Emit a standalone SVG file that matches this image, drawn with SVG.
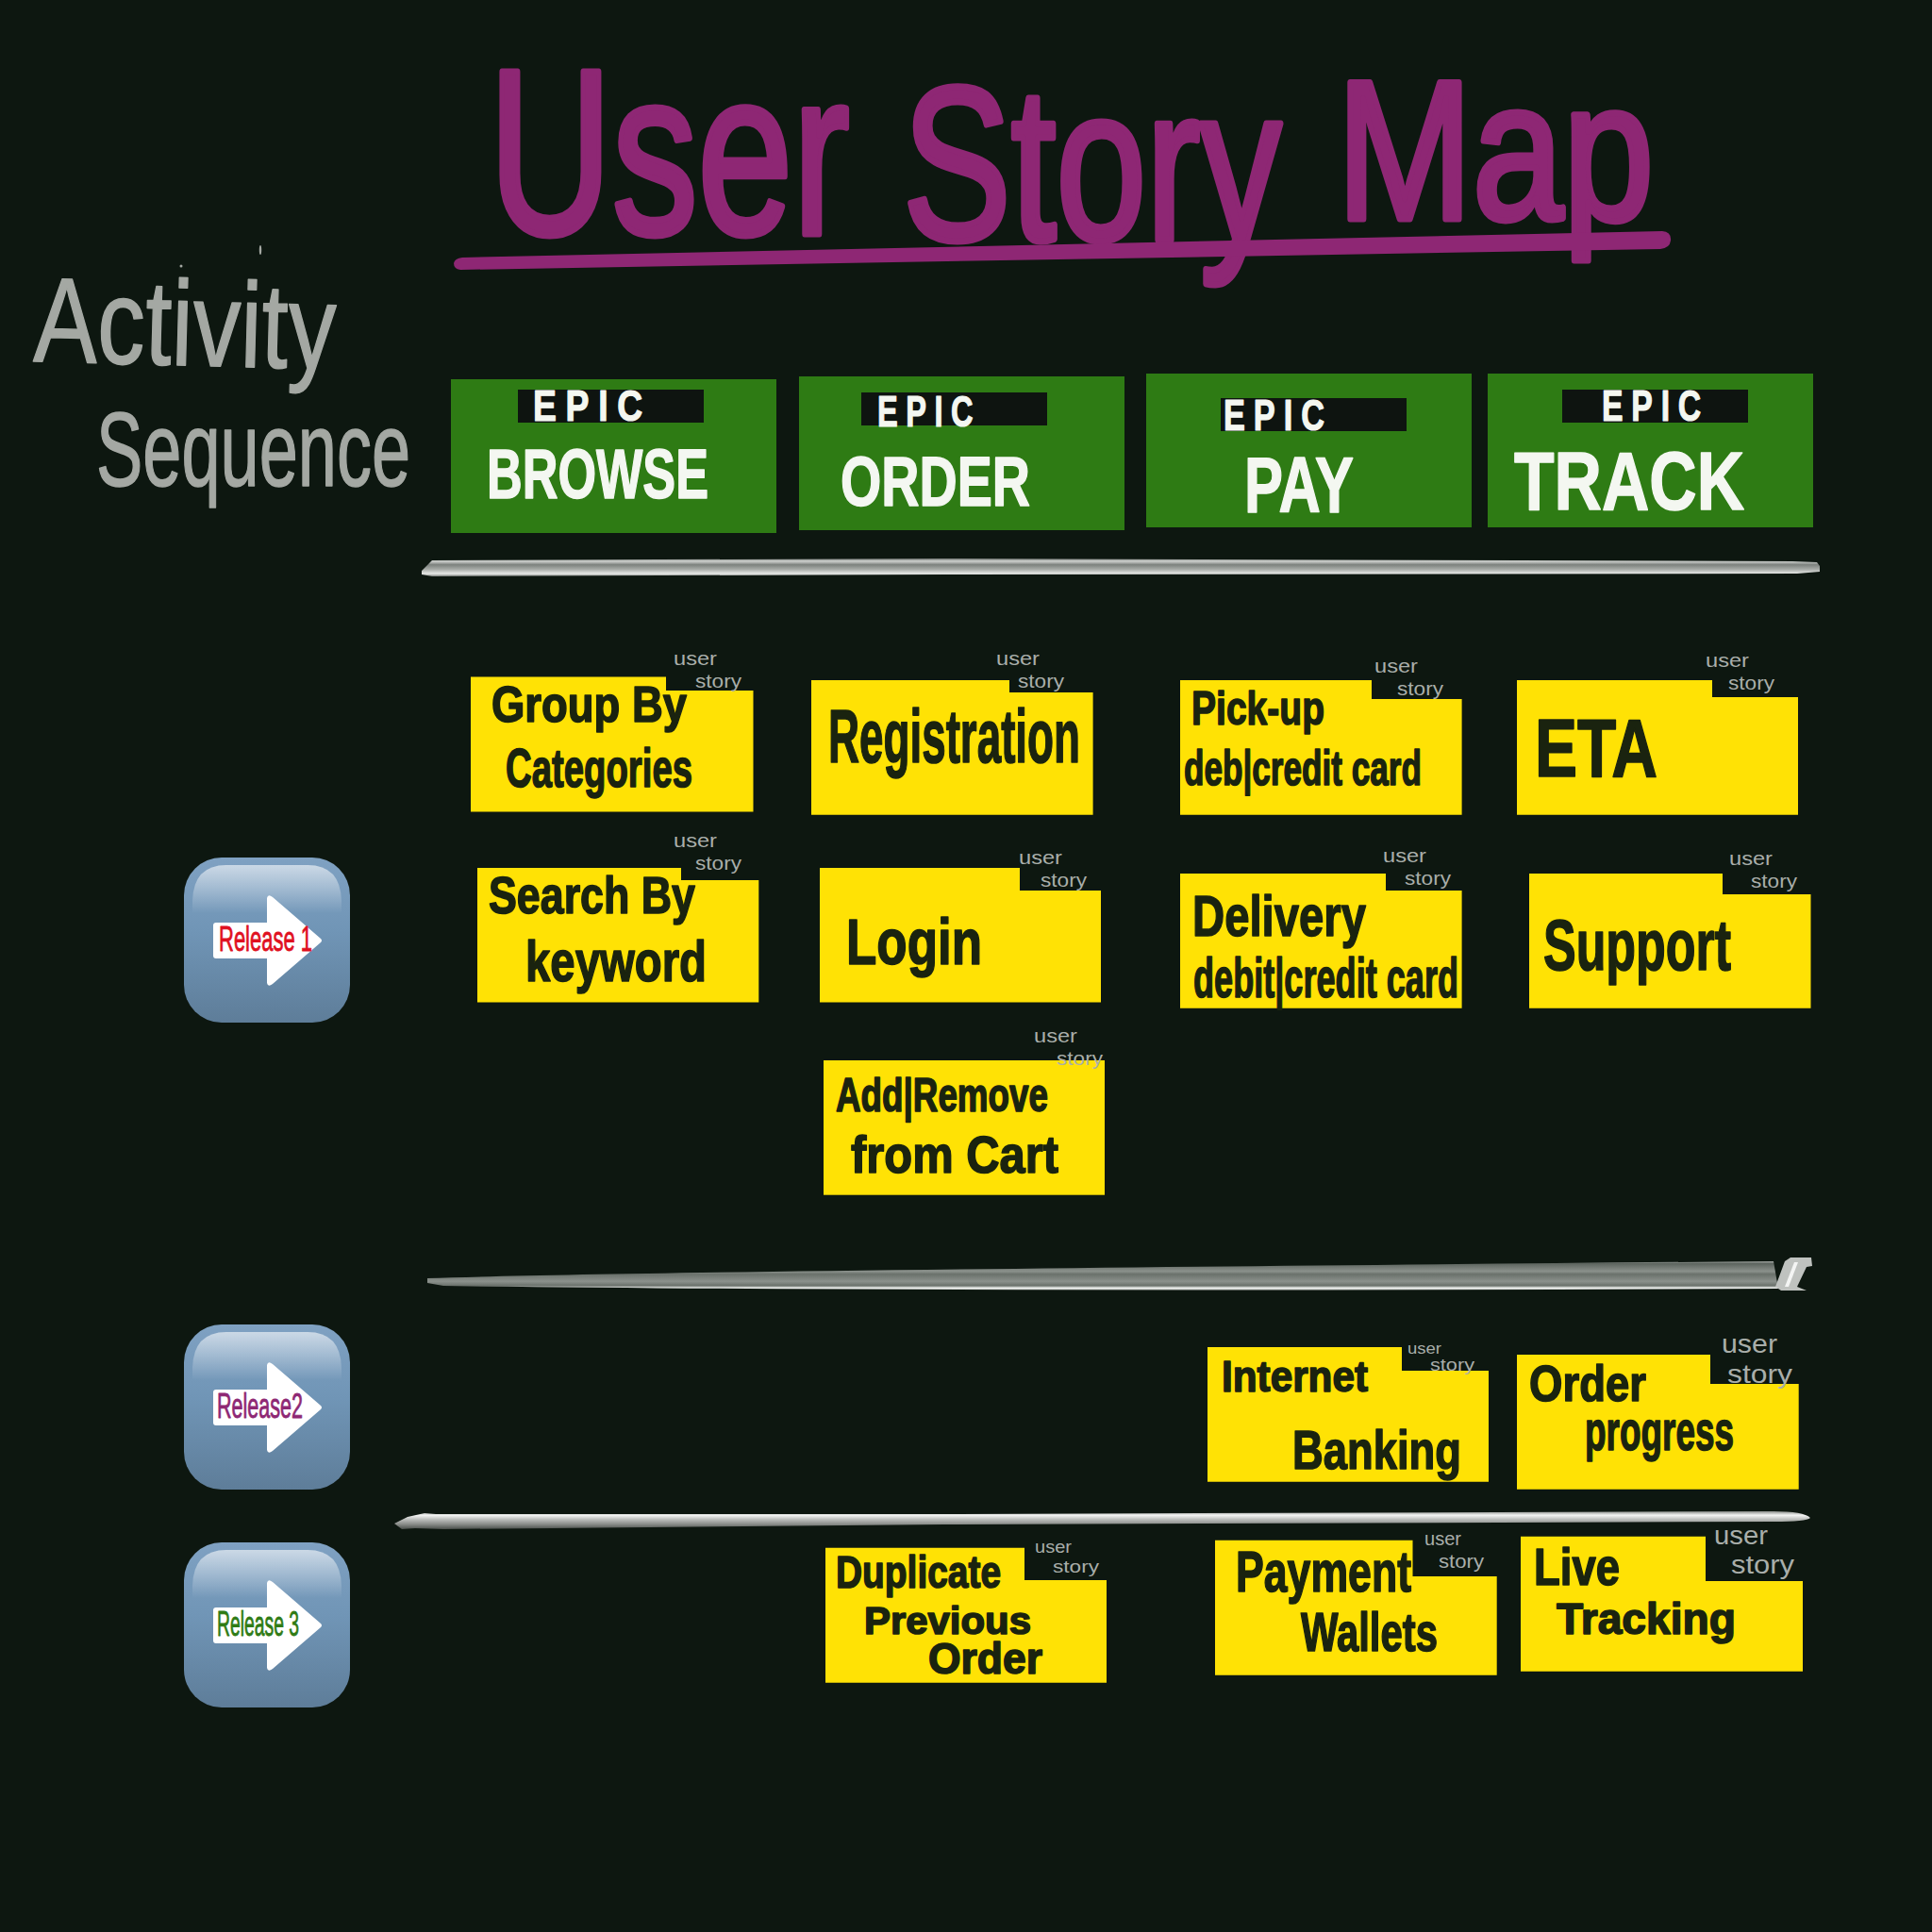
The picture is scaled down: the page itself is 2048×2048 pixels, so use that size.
<svg xmlns="http://www.w3.org/2000/svg" width="2048" height="2048" viewBox="0 0 2048 2048">
<style>
text{font-family:"Liberation Sans",Arial,sans-serif;stroke-linejoin:round;stroke-linecap:round}
.ti{fill:#8E2774;stroke:#8E2774;stroke-width:7px}
.ac{fill:#A4A8A3;stroke:#A4A8A3;stroke-width:1.5px}
.ep{fill:#2E7B14}.tb{fill:#0E1410}
.et{fill:#F4F7F1;stroke:#F4F7F1;stroke-width:1.2px;font-weight:700;font-size:46px;letter-spacing:12px}
.ew{fill:#F4F7F1;stroke:#F4F7F1;stroke-width:1.5px;font-weight:700}
.st{fill:#FFE205}
.nt{fill:#1A230F;stroke:#1A230F;stroke-width:1.6px;font-weight:700}
.us{fill:#A9AEAA;font-size:21px}
.rl{font-size:36px;stroke-width:.8px}
</style>
<defs>
<linearGradient id="btn" x1="0" y1="0" x2="0" y2="1"><stop offset="0" stop-color="#7FA1C2"/><stop offset=".45" stop-color="#7095B6"/><stop offset="1" stop-color="#5E7D99"/></linearGradient>
<linearGradient id="gloss" x1="0" y1="0" x2="0" y2="1"><stop offset="0" stop-color="#fff" stop-opacity=".6"/><stop offset="1" stop-color="#fff" stop-opacity="0"/></linearGradient>
<linearGradient id="sw1" x1="0" y1="0" x2="0" y2="1"><stop offset="0" stop-color="#6A6F6B"/><stop offset=".15" stop-color="#CFD2CF"/><stop offset=".35" stop-color="#7C817D"/><stop offset=".6" stop-color="#A7ABA7"/><stop offset=".85" stop-color="#E8EAE8"/><stop offset="1" stop-color="#7A7F7B"/></linearGradient>
<linearGradient id="sw3" x1="0" y1="0" x2="0" y2="1"><stop offset="0" stop-color="#888C88"/><stop offset=".22" stop-color="#F4F5F4"/><stop offset=".45" stop-color="#BDBFBD"/><stop offset=".72" stop-color="#8A8D8A"/><stop offset="1" stop-color="#4A4F4B"/></linearGradient>
<linearGradient id="sw2" x1="0" y1="0" x2="0" y2="1"><stop offset="0" stop-color="#A8ACA8"/><stop offset=".08" stop-color="#5D655F"/><stop offset=".35" stop-color="#8B918C"/><stop offset=".45" stop-color="#6A716B"/><stop offset=".7" stop-color="#8B918C"/><stop offset=".85" stop-color="#6A716B"/><stop offset=".93" stop-color="#F0F2F0"/><stop offset="1" stop-color="#B0B3B0"/></linearGradient>
<g id="btnbase">
<rect x="195" y="909" width="176" height="175" rx="40" fill="url(#btn)"/>
<path d="M204 955Q205 917 240 917H326Q361 917 362 955V968H204Z" fill="url(#gloss)"/>
<path d="M226 981Q226 978 229 978H283V952Q284 947 289 951L340 995Q342 997 340 999L289 1043Q284 1047 283 1042V1016H229Q226 1016 226 1013Z" fill="#fff"/>
</g>
</defs>
<rect width="2048" height="2048" fill="#0D1710"/>

<g id="title">
<text class="ti"><tspan x="518" y="248" font-size="248" textLength="433" lengthAdjust="spacingAndGlyphs">User </tspan><tspan x="957" y="254" font-size="232" textLength="449" lengthAdjust="spacingAndGlyphs">Story </tspan><tspan x="1417" y="232" font-size="210" textLength="336" lengthAdjust="spacingAndGlyphs">Map</tspan></text>
<path d="M490 273L1762 245Q1772 246 1771 255Q1770 263 1760 264L488 286Q481 285 481 279Q482 274 490 273Z" fill="#8E2774"/>
</g>

<g id="activity-sequence">
<text class="ac" x="35" y="383" font-size="128" textLength="320" lengthAdjust="spacingAndGlyphs" transform="rotate(1.5 35 383)">Activity</text>
<text class="ac" x="102" y="515" font-size="112" textLength="333" lengthAdjust="spacingAndGlyphs">Sequence</text>
<ellipse cx="192" cy="282" rx="1.5" ry="1.5" fill="#A4A8A3"/>
<ellipse cx="276" cy="265" rx="1.2" ry="5" fill="#A4A8A3"/>
</g>

<g id="epic-browse"><rect class="ep" x="478" y="402" width="345" height="163"/><rect class="tb" x="549" y="413" width="197" height="35"/>
<text class="et" x="565" y="446" textLength="126" lengthAdjust="spacingAndGlyphs">EPIC</text>
<text class="ew" x="516" y="528" font-size="74" textLength="235" lengthAdjust="spacingAndGlyphs">BROWSE</text></g>
<g id="epic-order"><rect class="ep" x="847" y="399" width="345" height="163"/><rect class="tb" x="913" y="416" width="197" height="35"/>
<text class="et" x="930" y="452" textLength="110" lengthAdjust="spacingAndGlyphs">EPIC</text>
<text class="ew" x="891" y="536" font-size="74" textLength="201" lengthAdjust="spacingAndGlyphs">ORDER</text></g>
<g id="epic-pay"><rect class="ep" x="1215" y="396" width="345" height="163"/><rect class="tb" x="1294" y="422" width="197" height="35"/>
<text class="et" x="1297" y="456" textLength="116" lengthAdjust="spacingAndGlyphs">EPIC</text>
<text class="ew" x="1319" y="543" font-size="84" textLength="116" lengthAdjust="spacingAndGlyphs">PAY</text></g>
<g id="epic-track"><rect class="ep" x="1577" y="396" width="345" height="163"/><rect class="tb" x="1656" y="413" width="197" height="35"/>
<text class="et" x="1698" y="446" textLength="114" lengthAdjust="spacingAndGlyphs">EPIC</text>
<text class="ew" x="1605" y="540" font-size="88" textLength="244" lengthAdjust="spacingAndGlyphs">TRACK</text></g>

<g id="separators">
<path d="M447 605L456 596L458 594L1000 592L1900 595L1926 596L1929 600L1929 606L1905 608L1000 609L458 611L447 609Z" fill="url(#sw1)"/>
<path d="M453 1355Q700 1347 1880 1337L1885 1366Q1000 1370 470 1363L453 1360Z" fill="url(#sw2)"/>
<path d="M1882 1364L1892 1337L1898 1333L1920 1333L1921 1342L1915 1343L1905 1364L1915 1368L1888 1368Z" fill="#BFC2BF"/>
<path d="M1902 1338L1906 1338L1896 1364L1892 1364Z" fill="#F4F5F4"/>
<path d="M418 1615L432 1608L450 1604L462 1605L1000 1605L1880 1602Q1912 1602 1919 1609Q1915 1613 1880 1613L1000 1616L470 1621L440 1620L426 1621Z" fill="url(#sw3)"/>
</g>

<g id="release-1"><use href="#btnbase"/><text class="rl" x="232" y="1008" fill="#E0101F" stroke="#E0101F" textLength="99" lengthAdjust="spacingAndGlyphs">Release 1</text></g>
<g id="release-2"><use href="#btnbase" y="495"/><text class="rl" x="230" y="1503" fill="#8E2774" stroke="#8E2774" textLength="91" lengthAdjust="spacingAndGlyphs">Release2</text></g>
<g id="release-3"><use href="#btnbase" y="726"/><text class="rl" x="230" y="1734" fill="#2E7B14" stroke="#2E7B14" textLength="87" lengthAdjust="spacingAndGlyphs">Release 3</text></g>

<g id="note-group-by"><path class="st" d="M499 717.500H706V732H798.500V860.600H499Z"/>
<text class="us" x="714" y="705" textLength="46" lengthAdjust="spacingAndGlyphs">user</text><text class="us" x="737" y="729" textLength="49" lengthAdjust="spacingAndGlyphs">story</text>
<text class="nt" x="521" y="765" font-size="53" textLength="207" lengthAdjust="spacingAndGlyphs">Group By</text>
<text class="nt" x="536" y="834" font-size="58" textLength="198" lengthAdjust="spacingAndGlyphs">Categories</text></g>

<g id="note-registration"><path class="st" d="M860 721H1070V734H1158.600V863.800H860Z"/>
<text class="us" x="1056" y="705" textLength="46" lengthAdjust="spacingAndGlyphs">user</text><text class="us" x="1079" y="729" textLength="49" lengthAdjust="spacingAndGlyphs">story</text>
<text class="nt" x="878" y="808" font-size="80" textLength="267" lengthAdjust="spacingAndGlyphs">Registration</text></g>

<g id="note-search"><path class="st" d="M506 920H722V933H804.300V1062.600H506Z"/>
<text class="us" x="714" y="898" textLength="46" lengthAdjust="spacingAndGlyphs">user</text><text class="us" x="737" y="922" textLength="49" lengthAdjust="spacingAndGlyphs">story</text>
<text class="nt" x="518" y="968" font-size="56" textLength="219" lengthAdjust="spacingAndGlyphs">Search By</text>
<text class="nt" x="557" y="1040" font-size="62" textLength="192" lengthAdjust="spacingAndGlyphs">keyword</text></g>

<g id="note-login"><path class="st" d="M869 920H1081V944H1167V1062.600H869Z"/>
<text class="us" x="1080" y="916" textLength="46" lengthAdjust="spacingAndGlyphs">user</text><text class="us" x="1103" y="940" textLength="49" lengthAdjust="spacingAndGlyphs">story</text>
<text class="nt" x="897" y="1022" font-size="68" textLength="144" lengthAdjust="spacingAndGlyphs">Login</text></g>

<g id="note-add-remove"><rect class="st" x="873" y="1124" width="298" height="142.700"/>
<text class="us" x="1096" y="1105" textLength="46" lengthAdjust="spacingAndGlyphs">user</text><text class="us" x="1120" y="1129" textLength="49" lengthAdjust="spacingAndGlyphs">story</text>
<text class="nt" x="886" y="1178" font-size="50" textLength="225" lengthAdjust="spacingAndGlyphs">Add|Remove</text>
<text class="nt" x="902" y="1243" font-size="56" textLength="220" lengthAdjust="spacingAndGlyphs">from Cart</text></g>

<g id="note-pick-up"><path class="st" d="M1251 721H1454V741H1549.600V863.700H1251Z"/>
<text class="us" x="1457" y="713" textLength="46" lengthAdjust="spacingAndGlyphs">user</text><text class="us" x="1481" y="737" textLength="49" lengthAdjust="spacingAndGlyphs">story</text>
<text class="nt" x="1263" y="768" font-size="50" textLength="141" lengthAdjust="spacingAndGlyphs">Pick-up</text>
<text class="nt" x="1255" y="832" font-size="52" textLength="252" lengthAdjust="spacingAndGlyphs">deb|credit card</text></g>

<g id="note-eta"><path class="st" d="M1608 721H1815V739H1906V863.700H1608Z"/>
<text class="us" x="1808" y="707" textLength="46" lengthAdjust="spacingAndGlyphs">user</text><text class="us" x="1832" y="731" textLength="49" lengthAdjust="spacingAndGlyphs">story</text>
<text class="nt" x="1627" y="823" font-size="88" textLength="130" lengthAdjust="spacingAndGlyphs">ETA</text></g>

<g id="note-delivery"><path class="st" d="M1251 926H1469V944H1549.600V1068.700H1251Z"/>
<text class="us" x="1466" y="914" textLength="46" lengthAdjust="spacingAndGlyphs">user</text><text class="us" x="1489" y="938" textLength="49" lengthAdjust="spacingAndGlyphs">story</text>
<text class="nt" x="1264" y="992" font-size="62" textLength="184" lengthAdjust="spacingAndGlyphs">Delivery</text>
<text class="nt" x="1265" y="1057" font-size="60" textLength="281" lengthAdjust="spacingAndGlyphs">debit|credit card</text></g>

<g id="note-support"><path class="st" d="M1621 926H1826V948H1919.500V1068.700H1621Z"/>
<text class="us" x="1833" y="917" textLength="46" lengthAdjust="spacingAndGlyphs">user</text><text class="us" x="1856" y="941" textLength="49" lengthAdjust="spacingAndGlyphs">story</text>
<text class="nt" x="1636" y="1028" font-size="76" textLength="199" lengthAdjust="spacingAndGlyphs">Support</text></g>

<g id="note-internet-banking"><path class="st" d="M1280 1428H1486V1453H1578V1570.700H1280Z"/>
<text class="us" x="1492" y="1435" style="font-size:17px" textLength="36" lengthAdjust="spacingAndGlyphs">user</text><text class="us" x="1516" y="1453" style="font-size:19px" textLength="47" lengthAdjust="spacingAndGlyphs">story</text>
<text class="nt" x="1295" y="1475" font-size="46" textLength="155" lengthAdjust="spacingAndGlyphs">Internet</text>
<text class="nt" x="1370" y="1557" font-size="58" textLength="179" lengthAdjust="spacingAndGlyphs">Banking</text></g>

<g id="note-order-progress"><path class="st" d="M1608 1436H1813V1467H1906.700V1578.700H1608Z"/>
<text class="us" x="1825" y="1434" style="font-size:28px" textLength="59" lengthAdjust="spacingAndGlyphs">user</text><text class="us" x="1831" y="1466" style="font-size:28px" textLength="69" lengthAdjust="spacingAndGlyphs">story</text>
<text class="nt" x="1621" y="1485" font-size="54" textLength="124" lengthAdjust="spacingAndGlyphs">Order</text>
<text class="nt" x="1680" y="1537" font-size="60" textLength="158" lengthAdjust="spacingAndGlyphs">progress</text></g>

<g id="note-duplicate"><path class="st" d="M875 1640.700H1086V1675H1173V1783.700H875Z"/>
<text class="us" x="1097" y="1646" style="font-size:19px" textLength="39" lengthAdjust="spacingAndGlyphs">user</text><text class="us" x="1116" y="1667" style="font-size:19px" textLength="49" lengthAdjust="spacingAndGlyphs">story</text>
<text class="nt" x="886" y="1683" font-size="48" textLength="175" lengthAdjust="spacingAndGlyphs">Duplicate</text>
<text class="nt" x="916" y="1732" font-size="40" textLength="177" lengthAdjust="spacingAndGlyphs">Previous</text>
<text class="nt" x="984" y="1774" font-size="46" textLength="121" lengthAdjust="spacingAndGlyphs">Order</text></g>

<g id="note-payment-wallets"><path class="st" d="M1288 1632.700H1497.500V1671H1586.700V1775.700H1288Z"/>
<text class="us" x="1510" y="1638" textLength="39" lengthAdjust="spacingAndGlyphs">user</text><text class="us" x="1525" y="1662" textLength="48" lengthAdjust="spacingAndGlyphs">story</text>
<text class="nt" x="1310" y="1687" font-size="62" textLength="186" lengthAdjust="spacingAndGlyphs">Payment</text>
<text class="nt" x="1379" y="1750" font-size="58" textLength="145" lengthAdjust="spacingAndGlyphs">Wallets</text></g>

<g id="note-live-tracking"><path class="st" d="M1612 1628.700H1808V1676H1911V1771.700H1612Z"/>
<text class="us" x="1817" y="1637" style="font-size:27px" textLength="57" lengthAdjust="spacingAndGlyphs">user</text><text class="us" x="1835" y="1668" style="font-size:27px" textLength="67" lengthAdjust="spacingAndGlyphs">story</text>
<text class="nt" x="1626" y="1680" font-size="55" textLength="91" lengthAdjust="spacingAndGlyphs">Live</text>
<text class="nt" x="1650" y="1732" font-size="46" textLength="190" lengthAdjust="spacingAndGlyphs">Tracking</text></g>
</svg>
